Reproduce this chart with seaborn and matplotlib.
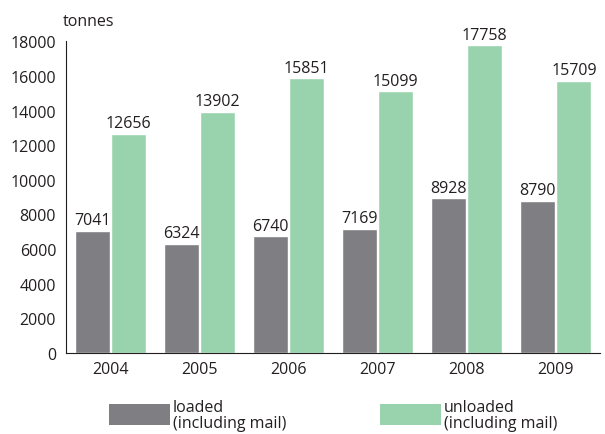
import matplotlib
matplotlib.use("Agg")
import matplotlib.pyplot as plt
import seaborn as sns
import pandas as pd
from matplotlib.patches import Rectangle
from matplotlib.ticker import FixedLocator

years = ["2004", "2005", "2006", "2007", "2008", "2009"]
loaded = [7041, 6324, 6740, 7169, 8928, 8790]
unloaded = [12656, 13902, 15851, 15099, 17758, 15709]
series_names = ["loaded\n(including mail)", "unloaded\n(including mail)"]
colors = ["#7f7f83", "#98d3ae"]

df = pd.DataFrame({
    "year": years * 2,
    "value": loaded + unloaded,
    "series": [series_names[0]] * len(years) + [series_names[1]] * len(years),
})

sns.set_style("white")
plt.rcParams["font.family"] = ["Open Sans", "DejaVu Sans"]

W, H = 605, 435
fig = plt.figure(figsize=(W / 100, H / 100), dpi=100)
ax = fig.add_axes([0.109, 0.186, 0.883, 0.717])
sns.barplot(data=df, x="year", y="value", hue="series", palette=colors,
            width=0.82, gap=0.04, ax=ax, legend=False, saturation=1)

for cont in ax.containers:
    ax.bar_label(cont, fmt="%d", fontsize=11.5, padding=2, color="#231f20")

ax.set_xlim(-0.5, 5.5)
ax.set_ylim(0, 18000)
ax.set_yticks(range(0, 18001, 2000))
ax.tick_params(axis="y", labelsize=11.5, length=4, width=0.8, direction="out", colors="#231f20", pad=3)
ax.tick_params(axis="x", which="major", length=0, labelsize=11.5, pad=6, colors="#231f20")
ax.xaxis.set_minor_locator(FixedLocator([0.5, 1.5, 2.5, 3.5, 4.5]))
ax.tick_params(axis="x", which="minor", length=4, width=0.8, direction="in", color="#231f20")
ax.set_xlabel("")
ax.set_ylabel("")
for s in ["top", "right"]:
    ax.spines[s].set_visible(False)
for s in ["left", "bottom"]:
    ax.spines[s].set_color("#231f20")
    ax.spines[s].set_linewidth(0.8)

fig.text(63 / W, 1 - 30 / H, "tonnes", fontsize=11.5, color="#231f20", ha="left", va="bottom")

# legend drawn in figure pixel coordinates
for x0, c, lab in [(109, colors[0], series_names[0]), (380, colors[1], series_names[1])]:
    fig.add_artist(Rectangle((x0 / W, 1 - 426 / H), 61 / W, 21 / H,
                             transform=fig.transFigure, facecolor=c, edgecolor="none"))
    fig.text((x0 + 64) / W, 1 - 416 / H, lab, fontsize=11.5, color="#231f20",
             ha="left", va="center", linespacing=0.95)

fig.savefig("out.png", dpi=100)
